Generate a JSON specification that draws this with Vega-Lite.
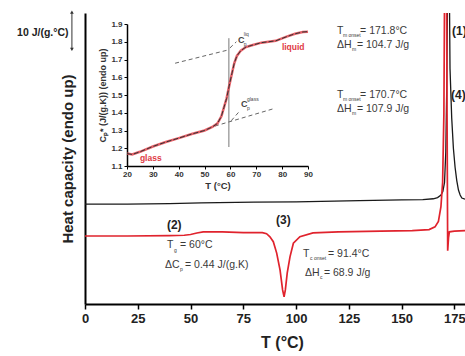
{
  "$schema": "https://vega.github.io/schema/vega-lite/v6.json",
  "width": 380,
  "height": 291,
  "autosize": {"type": "none"},
  "padding": {"left": 85, "top": 13, "right": 0, "bottom": 52},
  "background": "white",
  "config": {"font": "Liberation Sans", "view": {"stroke": null}},
  "datasets": {
    "black": [
      {"T": 0, "v": 26.3}, {"T": 20, "v": 26.3}, {"T": 40, "v": 26.4}, {"T": 55, "v": 26.6},
      {"T": 80, "v": 26.8}, {"T": 100, "v": 26.9}, {"T": 130, "v": 27.2}, {"T": 150, "v": 27.4},
      {"T": 160, "v": 27.5}, {"T": 165, "v": 27.7}, {"T": 167, "v": 28.0}, {"T": 168.5, "v": 28.6},
      {"T": 169.5, "v": 29.6}, {"T": 170.3, "v": 32}, {"T": 170.9, "v": 40}, {"T": 171.3, "v": 55},
      {"T": 171.7, "v": 80}, {"T": 172.1, "v": 100}, {"T": 172.5, "v": 90}, {"T": 172.9, "v": 62},
      {"T": 173.7, "v": 49}, {"T": 174.5, "v": 41}, {"T": 175.3, "v": 36}, {"T": 176.1, "v": 32.5},
      {"T": 176.9, "v": 30}, {"T": 177.7, "v": 28.7}, {"T": 178.5, "v": 27.9}, {"T": 180, "v": 27.6}
    ],
    "red": [
      {"T": 0, "v": 17.9}, {"T": 20, "v": 17.9}, {"T": 40, "v": 18.0}, {"T": 47, "v": 18.1},
      {"T": 50, "v": 18.3}, {"T": 53, "v": 18.7}, {"T": 56, "v": 19.0}, {"T": 65, "v": 19.0},
      {"T": 75, "v": 18.8}, {"T": 84, "v": 18.8}, {"T": 86, "v": 18.5}, {"T": 87.6, "v": 17.7},
      {"T": 89.2, "v": 16.4}, {"T": 90.8, "v": 13.4}, {"T": 92.4, "v": 8.9}, {"T": 93.6, "v": 3.7},
      {"T": 94.3, "v": 1.9}, {"T": 94.9, "v": 3.7}, {"T": 95.8, "v": 8.2}, {"T": 97.1, "v": 12.4},
      {"T": 98.7, "v": 16}, {"T": 101.8, "v": 17.7}, {"T": 108, "v": 18.7}, {"T": 120, "v": 19.0},
      {"T": 140, "v": 19.2}, {"T": 155, "v": 19.3}, {"T": 163, "v": 19.6}, {"T": 165.8, "v": 20.3},
      {"T": 167.4, "v": 21.7}, {"T": 168.6, "v": 25.6}, {"T": 169.4, "v": 32}, {"T": 170, "v": 50},
      {"T": 170.6, "v": 110}, {"T": 171.1, "v": 110}, {"T": 171.5, "v": 50}, {"T": 171.8, "v": 14},
      {"T": 172.2, "v": 17.5}, {"T": 172.6, "v": 19.0}, {"T": 175, "v": 19.2}, {"T": 180, "v": 19.3}
    ],
    "notes": [
      {"label": "T", "T": 119.4, "v": 71.84},
      {"label": "= 171.8°C", "T": 130.3, "v": 71.84},
      {"label": "ΔH", "T": 119.4, "v": 68.16},
      {"label": "= 104.7 J/g", "T": 128.8, "v": 68.16},
      {"label": "T", "T": 119.4, "v": 55.0},
      {"label": "= 170.7°C", "T": 130.3, "v": 55.0},
      {"label": "ΔH", "T": 119.4, "v": 51.3},
      {"label": "= 107.9 J/g", "T": 128.8, "v": 51.3},
      {"label": "T", "T": 38.8, "v": 15.5},
      {"label": "= 60°C", "T": 45.0, "v": 15.5},
      {"label": "ΔC", "T": 37.9, "v": 10.3},
      {"label": "= 0.44 J/(g.K)", "T": 47.4, "v": 10.3},
      {"label": "T", "T": 103.3, "v": 13.2},
      {"label": "= 91.4°C", "T": 115.1, "v": 13.2},
      {"label": "ΔH", "T": 104.2, "v": 8.2},
      {"label": "= 68.9 J/g", "T": 113.2, "v": 8.2}
    ],
    "subs": [
      {"label": "m onset", "T": 122.2, "v": 70.8},
      {"label": "m", "T": 126.5, "v": 67.1},
      {"label": "m onset", "T": 122.2, "v": 53.95},
      {"label": "m", "T": 126.5, "v": 50.26},
      {"label": "g", "T": 42.2, "v": 14.2},
      {"label": "p", "T": 45.0, "v": 9.2},
      {"label": "c onset", "T": 106.6, "v": 12.1},
      {"label": "c", "T": 111.3, "v": 7.1}
    ],
    "tags": [
      {"label": "(1)", "T": 173.9, "v": 71.8},
      {"label": "(4)", "T": 173.4, "v": 55.0},
      {"label": "(2)", "T": 38.8, "v": 20.8},
      {"label": "(3)", "T": 90.5, "v": 22.1}
    ],
    "scalebar": [{"T": -6.2, "top": 76.8, "bottom": 67.0, "mid": 71.3, "labelT": -7.8, "label": "10 J/(g.°C)"}],
    "inset": [
      {"T": 20, "Cp": 1.17}, {"T": 22, "Cp": 1.165}, {"T": 25, "Cp": 1.18}, {"T": 30, "Cp": 1.21},
      {"T": 35, "Cp": 1.235}, {"T": 40, "Cp": 1.257}, {"T": 45, "Cp": 1.28}, {"T": 50, "Cp": 1.30},
      {"T": 53, "Cp": 1.32}, {"T": 55, "Cp": 1.34}, {"T": 56.5, "Cp": 1.38}, {"T": 57.5, "Cp": 1.43},
      {"T": 58.5, "Cp": 1.48}, {"T": 59.5, "Cp": 1.55}, {"T": 60.4, "Cp": 1.61}, {"T": 61.5, "Cp": 1.68},
      {"T": 62.5, "Cp": 1.72}, {"T": 64, "Cp": 1.75}, {"T": 66, "Cp": 1.77}, {"T": 68.3, "Cp": 1.78},
      {"T": 72, "Cp": 1.795}, {"T": 77.5, "Cp": 1.805}, {"T": 82, "Cp": 1.83}, {"T": 85, "Cp": 1.845},
      {"T": 88, "Cp": 1.855}, {"T": 90, "Cp": 1.857}
    ],
    "tangents": [
      {"T": 38.6, "Cp": 1.679, "T2": 59.2, "Cp2": 1.754},
      {"T": 54, "Cp": 1.325, "T2": 77.2, "Cp2": 1.425},
      {"T": 59.8, "Cp": 1.765, "T2": 62.3, "Cp2": 1.8},
      {"T": 60.3, "Cp": 1.355, "T2": 63.6, "Cp2": 1.41}
    ],
    "vline": [{"T": 59.4, "Cp": 1.207, "T2": 59.4, "Cp2": 1.82}],
    "insetC": [
      {"label": "C", "T": 62.9, "Cp": 1.81},
      {"label": "C", "T": 64.1, "Cp": 1.449}
    ],
    "insetSmall": [
      {"label": "p", "T": 65.2, "Cp": 1.787},
      {"label": "liq", "T": 65.2, "Cp": 1.844},
      {"label": "p", "T": 66.4, "Cp": 1.427},
      {"label": "glass", "T": 66.4, "Cp": 1.477}
    ],
    "insetRed": [
      {"label": "liquid", "T": 79.9, "Cp": 1.77},
      {"label": "glass", "T": 25, "Cp": 1.145}
    ]
  },
  "layer": [
    {
      "layer": [
        {
          "mark": {"type": "rule", "color": "#c9dfee", "strokeWidth": 3},
          "encoding": {"y": {"datum": 80, "type": "quantitative"}, "x": {"datum": -40.3, "type": "quantitative"}, "x2": {"datum": 180}}
        },
        {
          "mark": {"type": "rule", "color": "black", "strokeWidth": 2},
          "encoding": {"y": {"datum": 76.6, "type": "quantitative"}}
        },
        {
          "data": {"name": "black"},
          "mark": {"type": "line", "color": "#1a1a1a", "strokeWidth": 1.3, "clip": true},
          "encoding": {
            "x": {
              "field": "T", "type": "quantitative",
              "scale": {"domain": [0, 180], "nice": false, "zero": false},
              "axis": {
                "values": [0, 12.5, 25, 37.5, 50, 62.5, 75, 87.5, 100, 112.5, 125, 137.5, 150, 162.5, 175],
                "labelExpr": "datum.value % 25 === 0 ? datum.label : ''",
                "tickSize": {"condition": {"test": "datum.value % 25 === 0", "value": 5}, "value": 3},
                "tickColor": "black", "tickWidth": 1.5,
                "domainColor": "black", "domainWidth": 2,
                "labelFontSize": 13, "labelFontWeight": "bold", "labelColor": "#222",
                "labelPadding": 3, "labelFlush": false, "labelOverlap": false,
                "title": "T (°C)", "titleFontSize": 16, "titleFontWeight": "bold", "titleColor": "#222",
                "titlePadding": 9, "titleX": 197, "grid": false
              }
            },
            "y": {
              "field": "v", "type": "quantitative",
              "scale": {"domain": [0, 76.6], "nice": false, "zero": false},
              "axis": {
                "labels": false, "ticks": false, "grid": false,
                "domainColor": "black", "domainWidth": 2,
                "title": "Heat capacity (endo up)", "titleFontSize": 15, "titleFontWeight": "bold",
                "titleColor": "#222", "titlePadding": 10
              }
            }
          }
        },
        {
          "data": {"name": "red"},
          "mark": {"type": "line", "color": "#e0232d", "strokeWidth": 1.7, "clip": true},
          "encoding": {"x": {"field": "T", "type": "quantitative"}, "y": {"field": "v", "type": "quantitative"}}
        },
        {
          "data": {"name": "notes"},
          "mark": {"type": "text", "align": "left", "baseline": "middle", "fontSize": 10.5, "color": "#3a3a3a"},
          "encoding": {"x": {"field": "T", "type": "quantitative"}, "y": {"field": "v", "type": "quantitative"}, "text": {"field": "label"}}
        },
        {
          "data": {"name": "subs"},
          "mark": {"type": "text", "align": "left", "baseline": "middle", "fontSize": 5, "color": "#3a3a3a"},
          "encoding": {"x": {"field": "T", "type": "quantitative"}, "y": {"field": "v", "type": "quantitative"}, "text": {"field": "label"}}
        },
        {
          "data": {"name": "tags"},
          "mark": {"type": "text", "align": "left", "baseline": "middle", "fontSize": 12, "fontWeight": "bold", "color": "#222"},
          "encoding": {"x": {"field": "T", "type": "quantitative"}, "y": {"field": "v", "type": "quantitative"}, "text": {"field": "label"}}
        },
        {
          "data": {"name": "scalebar"},
          "mark": {"type": "rule", "color": "#333", "strokeWidth": 1},
          "encoding": {"x": {"field": "T", "type": "quantitative"}, "y": {"field": "top", "type": "quantitative"}, "y2": {"field": "bottom"}}
        },
        {
          "data": {"name": "scalebar"},
          "mark": {"type": "point", "shape": "triangle-up", "size": 14, "filled": true, "color": "#333", "opacity": 1},
          "encoding": {"x": {"field": "T", "type": "quantitative"}, "y": {"field": "top", "type": "quantitative"}}
        },
        {
          "data": {"name": "scalebar"},
          "mark": {"type": "point", "shape": "triangle-down", "size": 14, "filled": true, "color": "#333", "opacity": 1},
          "encoding": {"x": {"field": "T", "type": "quantitative"}, "y": {"field": "bottom", "type": "quantitative"}}
        },
        {
          "data": {"name": "scalebar"},
          "mark": {"type": "text", "align": "right", "baseline": "middle", "fontSize": 10.5, "fontWeight": "bold", "color": "#222"},
          "encoding": {"x": {"field": "labelT", "type": "quantitative"}, "y": {"field": "mid", "type": "quantitative"}, "text": {"field": "label"}}
        }
      ]
    },
    {
      "layer": [
        {
          "mark": {"type": "rect", "fill": "white", "stroke": "black", "strokeWidth": 1.5},
          "encoding": {
            "x": {"datum": 20, "type": "quantitative"},
            "x2": {"datum": 90},
            "y": {"datum": 1.1, "type": "quantitative"},
            "y2": {"datum": 1.9}
          }
        },
        {
          "data": {"name": "vline"},
          "mark": {"type": "rule", "color": "#777", "strokeWidth": 1},
          "encoding": {"x": {"field": "T", "type": "quantitative"}, "y": {"field": "Cp", "type": "quantitative"}, "x2": {"field": "T2"}, "y2": {"field": "Cp2"}}
        },
        {
          "data": {"name": "tangents"},
          "mark": {"type": "rule", "color": "#666", "strokeWidth": 1, "strokeDash": [4, 3]},
          "encoding": {"x": {"field": "T", "type": "quantitative"}, "y": {"field": "Cp", "type": "quantitative"}, "x2": {"field": "T2"}, "y2": {"field": "Cp2"}}
        },
        {
          "data": {"name": "inset"},
          "mark": {"type": "line", "color": "#e2454f", "strokeWidth": 2.5, "opacity": 0.85},
          "encoding": {
            "x": {
              "field": "T", "type": "quantitative",
              "scale": {"domain": [20, 90], "range": [42, 223], "nice": false, "zero": false},
              "axis": {
                "orient": "bottom", "offset": -138, "tickCount": 7, "format": "d",
                "labelFontSize": 8, "labelFontWeight": "bold", "labelColor": "#333", "labelPadding": 1,
                "labelFlush": false, "labelOverlap": false,
                "tickSize": 3, "tickColor": "black", "domainColor": "black", "domainWidth": 1.5, "grid": false,
                "title": "T (°C)", "titleFontSize": 9.5, "titleFontWeight": "bold", "titleColor": "#333", "titlePadding": 2
              }
            },
            "y": {
              "field": "Cp", "type": "quantitative",
              "scale": {"domain": [1.1, 1.9], "range": [153, 11], "nice": false, "zero": false},
              "axis": {
                "orient": "left", "offset": -42, "tickCount": 8, "format": ".1f",
                "labelFontSize": 8, "labelFontWeight": "bold", "labelColor": "#333", "labelPadding": 2,
                "labelFlush": false, "labelOverlap": false, "labelBound": false,
                "tickSize": 3, "tickColor": "black", "domainColor": "black", "domainWidth": 1.5, "grid": false,
                "title": "Cₚ* (J/(g.K)) (endo up)", "titleFontSize": 9, "titleFontWeight": "bold", "titleColor": "#333", "titlePadding": 3
              }
            }
          }
        },
        {
          "data": {"name": "inset"},
          "mark": {"type": "line", "color": "#333", "strokeWidth": 1, "strokeDash": [5, 2]},
          "encoding": {"x": {"field": "T", "type": "quantitative"}, "y": {"field": "Cp", "type": "quantitative"}}
        },
        {
          "data": {"name": "insetC"},
          "mark": {"type": "text", "align": "left", "baseline": "middle", "fontSize": 9, "fontWeight": "bold", "color": "#444"},
          "encoding": {"x": {"field": "T", "type": "quantitative"}, "y": {"field": "Cp", "type": "quantitative"}, "text": {"field": "label"}}
        },
        {
          "data": {"name": "insetSmall"},
          "mark": {"type": "text", "align": "left", "baseline": "middle", "fontSize": 5, "color": "#444"},
          "encoding": {"x": {"field": "T", "type": "quantitative"}, "y": {"field": "Cp", "type": "quantitative"}, "text": {"field": "label"}}
        },
        {
          "data": {"name": "insetRed"},
          "mark": {"type": "text", "align": "left", "baseline": "middle", "fontSize": 8.5, "fontWeight": "bold", "color": "#e03a44"},
          "encoding": {"x": {"field": "T", "type": "quantitative"}, "y": {"field": "Cp", "type": "quantitative"}, "text": {"field": "label"}}
        }
      ]
    }
  ],
  "resolve": {"scale": {"x": "independent", "y": "independent"}, "axis": {"x": "independent", "y": "independent"}}
}
